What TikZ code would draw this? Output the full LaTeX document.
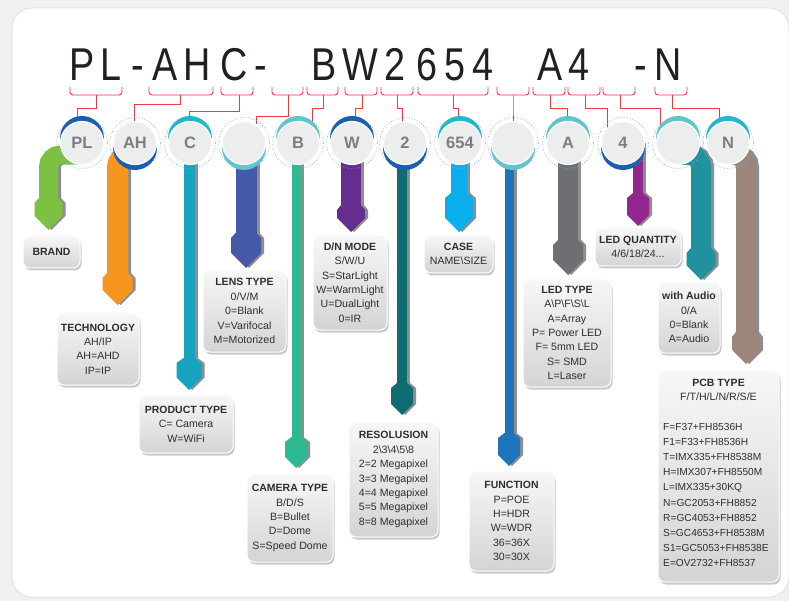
\documentclass[tikz,border=0pt]{standalone}
\usepackage{fontspec}
\setmainfont{Liberation Sans}
\newfontfamily\titlefont[FakeStretch=0.82]{Liberation Sans}
\usetikzlibrary{shadows}
\definecolor{bgout}{HTML}{F0F0F0}
\definecolor{cardline}{HTML}{E4E4E4}
\definecolor{redl}{HTML}{EE3A43}
\definecolor{ttl}{HTML}{231F20}
\definecolor{txt}{HTML}{2E2E2E}
\definecolor{circfill}{HTML}{ECEDED}
\definecolor{circtxt}{HTML}{7D7E81}
\definecolor{ringc}{HTML}{86A4D6}
\definecolor{cDB}{HTML}{1D5FAE}
\definecolor{cCY}{HTML}{22B7CB}
\definecolor{cLT}{HTML}{62C5CD}
\definecolor{shadowgrey}{HTML}{8E8E8E}
\definecolor{boxtop}{HTML}{F7F7F7}
\definecolor{boxbot}{HTML}{D3D4D6}
\definecolor{aGreen}{HTML}{7DC143}
\definecolor{aOrange}{HTML}{F7961F}
\definecolor{aCyan}{HTML}{16A3BF}
\definecolor{aIndigo}{HTML}{4659A7}
\definecolor{aSea}{HTML}{2DBA93}
\definecolor{aPurple}{HTML}{652D90}
\definecolor{aDTeal}{HTML}{0E6C72}
\definecolor{aSky}{HTML}{0AAEEC}
\definecolor{aBlue}{HTML}{1C74BB}
\definecolor{aGrey}{HTML}{6D6F72}
\definecolor{aMag}{HTML}{93278F}
\definecolor{aTeal}{HTML}{20929D}
\definecolor{aBrown}{HTML}{9C8679}
\newcommand\boxhead[1]{{\bfseries\fontsize{10.5}{14.4}\selectfont #1}}
% arrow head: x, half band, half head, y top, tip, colour
\newcommand\ahead[6]{\fill[#6] (#1-#2,#4) -- (#1-#3,#4+5) -- (#1-#3,#5-#3) -- (#1,#5) -- (#1+#3,#5-#3) -- (#1+#3,#4+5) -- (#1+#2,#4) -- cycle;}
% straight band: x, width, half head, y top, tip, colour
\newcommand\straightband[6]{%
  \draw[line width=#2pt, shadowgrey] (#1+3,143) -- (#1+3,#4+1);
  \ahead{#1+3}{#2/2}{#3}{#4}{#5}{shadowgrey}
  \draw[line width=#2pt, #6] (#1,143) -- (#1,#4+1);
  \ahead{#1}{#2/2}{#3}{#4}{#5}{#6}}
% bent band: circle x, band x, width, half head, y top, tip, colour, y of horizontal part
\newcommand\bentband[8]{%
  \draw[line width=#3pt, shadowgrey, rounded corners=12pt] (#1+3,#8) -- (#2+3,#8) -- (#2+3,#5+1);
  \ahead{#2+3}{#3/2}{#4}{#5}{#6}{shadowgrey}
  \draw[line width=#3pt, #7, rounded corners=12pt] (#1,#8) -- (#2,#8) -- (#2,#5+1);
  \ahead{#2}{#3/2}{#4}{#5}{#6}{#7}}
% bracket: x1, x2, stem x, mid y, end x, end y
\newcommand\brk[6]{%
  \draw[redl, line width=.9pt, rounded corners=3pt] (#1,87) -- (#1,95) -- (#2,95) -- (#2,87);
  \draw[redl, line width=.9pt] (#3,95) -- (#3,#4) -- (#5,#4) -- (#5,#6);}
% circle: name, x, crescent colour, direction, label
\newcommand\pcirc[5]{%
  \fill[#3] (#2,143+#4*5) circle[radius=22];
  \node[pcircle] (#1) at (#2,143) {#5};}
\tikzset{
  titlech/.style={anchor=base, inner sep=0pt, text=ttl, font=\titlefont\fontsize{46}{46}\selectfont},
  pcircle/.style={circle, minimum size=43pt, inner sep=0pt, fill=circfill, draw=white, line width=1.2pt, text=circtxt, font=\bfseries\fontsize{16.5}{16.5}\selectfont},
  ringstyle/.style={ringc, dotted, line width=.7pt},
  infobox/.style={rounded corners=7pt, draw=white, line width=1pt, top color=boxtop, bottom color=boxbot,
    drop shadow={shadow xshift=1.5pt, shadow yshift=-2.5pt, opacity=0.35, fill=black!60},
    align=center, inner sep=0pt, text=txt, font=\fontsize{10.6}{14.4}\selectfont},
  boxtext/.style={inner sep=0pt, text=txt, font=\fontsize{10.6}{14.4}\selectfont}
}
\begin{document}
\begin{tikzpicture}[x=1pt, y=-1pt]
\useasboundingbox (0,0) rectangle (789,601);
\fill[bgout] (0,0) rectangle (789,601);
\filldraw[fill=white, draw=cardline, line width=1pt, rounded corners=20pt] (12,8) rectangle (789,597);

% title
\node[titlech] (t1) at (82,81) {P};
\node[titlech] (t2) at (111,81) {L};
\node[titlech] (t3) at (138,81) {-};
\node[titlech] (t4) at (165,81) {A};
\node[titlech] (t5) at (197,81) {H};
\node[titlech] (t6) at (234,81) {C};
\node[titlech] (t7) at (261,81) {-};
\node[titlech] (t8) at (324,81) {B};
\node[titlech] (t9) at (360,81) {W};
\node[titlech] (t10) at (395,81) {2};
\node[titlech] (t11) at (427,81) {6};
\node[titlech] (t12) at (455,81) {5};
\node[titlech] (t13) at (483,81) {4};
\node[titlech] (t14) at (550,81) {A};
\node[titlech] (t15) at (579,81) {4};
\node[titlech] (t16) at (641,81) {-};
\node[titlech] (t17) at (668,81) {N};

% brackets
\brk{70}{122}{96}{108}{77}{122}
\brk{149}{213}{180}{104}{134}{122}
\brk{221}{253}{239}{111}{189}{122}
\brk{272}{303}{288}{116}{256}{124}
\brk{307}{338}{323}{108}{312}{124}
\brk{345}{377}{362}{108}{355}{122}
\brk{381}{413}{397}{108}{402}{122}
\brk{418}{488}{453}{108}{458}{122}
\brk{497}{529}{513}{108}{513}{122}
\brk{533}{565}{550}{108}{567}{122}
\brk{568}{600}{585}{108}{607}{128}
\brk{603}{635}{620}{108}{660}{129}
\brk{655}{687}{672}{108}{719}{124}

% bands
\bentband{82}{48.5}{19}{14}{198}{230}{aGreen}{155}
\bentband{135}{117.5}{21}{15}{273}{305}{aOrange}{155}
\straightband{189}{11}{12.5}{358}{390}{aCyan}
\straightband{246}{21}{15}{233}{268}{aIndigo}
\straightband{296}{9}{11}{437}{468}{aSea}
\straightband{351}{20}{14}{205}{232}{aPurple}
\straightband{402}{10}{11}{383}{415}{aDTeal}
\straightband{459}{16}{14}{193}{232}{aSky}
\straightband{509}{9}{11}{433}{466}{aBlue}
\straightband{568}{20}{15}{240}{275}{aGrey}
\straightband{638}{10}{11}{193}{226}{aMag}
\bentband{678}{701}{20}{14.5}{248}{280}{aTeal}{155}
\bentband{728}{746}{20}{14}{332}{364}{aBrown}{155}

% dotted rings
\foreach \cx in {82,135,190,244,298,352,405,460,513,568,623,678,728}
  \draw[ringstyle] (\cx,143) circle[radius=25.5];

% circles
\pcirc{c1}{82}{cDB}{-1}{PL}
\pcirc{c2}{135}{cDB}{1}{AH}
\pcirc{c3}{190}{cCY}{-1}{C}
\pcirc{c4}{244}{cLT}{1}{}
\pcirc{c5}{298}{cLT}{-1}{B}
\pcirc{c6}{352}{cDB}{-1}{W}
\pcirc{c7}{405}{cDB}{1}{2}
\pcirc{c8}{460}{cCY}{-1}{654}
\pcirc{c9}{513}{cLT}{1}{}
\pcirc{c10}{568}{cLT}{-1}{A}
\pcirc{c11}{623}{cDB}{1}{4}
\pcirc{c12}{678}{cLT}{-1}{}
\pcirc{c13}{728}{cCY}{-1}{N}

% boxes
\node[infobox, minimum width=57pt, minimum height=32pt] (brand) at (51.5,252) {\boxhead{BRAND}};
\node[infobox, minimum width=82pt, minimum height=72pt] (tech) at (98,349) {\boxhead{TECHNOLOGY}\\AH/IP\\AH=AHD\\IP=IP};
\node[infobox, minimum width=94pt, minimum height=58pt] (prod) at (186,424) {\boxhead{PRODUCT TYPE}\\C= Camera\\W=WiFi};
\node[infobox, minimum width=83pt, minimum height=82pt] (lens) at (244.5,311) {\boxhead{LENS TYPE}\\0/V/M\\0=Blank\\V=Varifocal\\M=Motorized};
\node[infobox, minimum width=86pt, minimum height=88pt] (cam) at (290,518) {\boxhead{CAMERA TYPE}\\B/D/S\\B=Bullet\\D=Dome\\S=Speed Dome};
\node[infobox, minimum width=74pt, minimum height=95pt] (dn) at (350,282.5) {\boxhead{D/N MODE}\\S/W/U\\S=StarLight\\W=WarmLight\\U=DualLight\\0=IR};
\node[infobox, minimum width=89pt, minimum height=115pt] (res) at (393.5,479.5) {\boxhead{RESOLUSION}\\2\textbackslash{}3\textbackslash{}4\textbackslash{}5\textbackslash{}8\\2=2 Megapixel\\3=3 Megapixel\\4=4 Megapixel\\5=5 Megapixel\\8=8 Megapixel};
\node[infobox, minimum width=69pt, minimum height=38pt] (case) at (458.5,254) {\boxhead{CASE}\\NAME\textbackslash{}SIZE};
\node[infobox, minimum width=85pt, minimum height=100pt] (func) at (511.5,521) {\boxhead{FUNCTION}\\P=POE\\H=HDR\\W=WDR\\36=36X\\30=30X};
\node[infobox, minimum width=88pt, minimum height=108pt] (ledt) at (567,333) {\boxhead{LED TYPE}\\A\textbackslash{}P\textbackslash{}F\textbackslash{}S\textbackslash{}L\\A=Array\\P= Power LED\\F= 5mm LED\\S= SMD\\L=Laser};
\node[infobox, minimum width=86pt, minimum height=38pt] (ledq) at (638,247) {\boxhead{LED QUANTITY}\\4/6/18/24...};
\node[infobox, minimum width=62pt, minimum height=71pt] (audio) at (689,317.5) {\boxhead{with Audio}\\0/A\\0=Blank\\A=Audio};
\node[infobox, minimum width=121pt, minimum height=212pt] (pcb) at (718.5,476) {};
\node[boxtext, align=center] (pcbh) at (718.5,390) {\boxhead{PCB TYPE}\\F/T/H/L/N/R/S/E};
\node[boxtext, align=left, anchor=west, font=\fontsize{10.2}{15.1}\selectfont] (pcbl) at (663,495) {F=F37+FH8536H\\F1=F33+FH8536H\\T=IMX335+FH8538M\\H=IMX307+FH8550M\\L=IMX335+30KQ\\N=GC2053+FH8852\\R=GC4053+FH8852\\S=GC4653+FH8538M\\S1=GC5053+FH8538E\\E=OV2732+FH8537};
\end{tikzpicture}
\end{document}
